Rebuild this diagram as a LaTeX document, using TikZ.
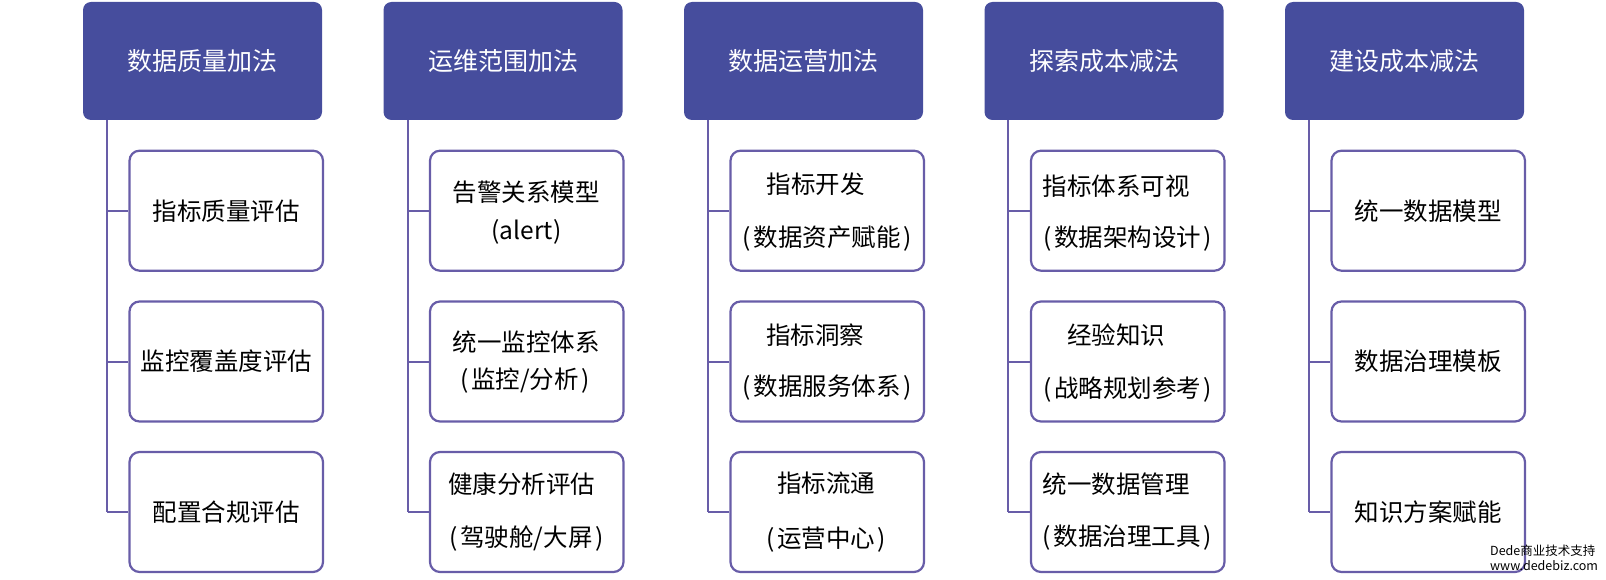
\documentclass[tikz,border=0pt]{standalone}
\usepackage{fontspec}
\newfontfamily\cjk{Noto Sans CJK SC}
\definecolor{hdr}{RGB}{70,77,157}
\definecolor{brd}{RGB}{104,93,168}
\newcommand\mylp{(\kern2.5pt}
\newcommand\myrp{\kern2.5pt)}
\begin{document}
\begin{tikzpicture}[x=1pt,y=-1pt,
  hdrbox/.style={draw=none, fill=hdr, rounded corners=8pt, minimum width=239pt, minimum height=118pt, inner sep=0pt, text=white, font=\cjk\fontsize{25}{30}\selectfont},
  itembox/.style={draw=brd, line width=2.2pt, fill=white, rounded corners=10pt, minimum width=193.5pt, minimum height=120pt, inner sep=0pt, font=\cjk\fontsize{24.5}{29}\selectfont},
  itemtxt/.style={inner sep=0pt, font=\cjk\fontsize{24.5}{29}\selectfont},
  marktxt/.style={inner sep=0pt, anchor=west, font=\cjk\fontsize{12.5}{14}\selectfont},
  link/.style={draw=brd, line width=2pt}]
\useasboundingbox (0,0) rectangle (1606,580);

% headers
\node[hdrbox] (h1) at (202.5,61) {数据质量加法};
\node[hdrbox] (h2) at (503,61) {运维范围加法};
\node[hdrbox] (h3) at (803.5,61) {数据运营加法};
\node[hdrbox] (h4) at (1104,61) {探索成本减法};
\node[hdrbox] (h5) at (1404.5,61) {建设成本减法};

% trunk ends
\coordinate (t1) at (106.5,512);
\coordinate (t2) at (407.5,512);
\coordinate (t3) at (707.5,512);
\coordinate (t4) at (1008,512);
\coordinate (t5) at (1308.5,512);

% item boxes
\node[itembox] (b11) at (226.25,210.7) {指标质量评估};
\node[itembox] (b12) at (226.25,361.5) {监控覆盖度评估};
\node[itembox] (b13) at (226.25,512) {配置合规评估};

\node[itembox] (b21) at (526.75,210.7) {};
\node[itembox] (b22) at (526.75,361.5) {};
\node[itembox] (b23) at (526.75,512) {};

\node[itembox] (b31) at (827.25,210.7) {};
\node[itembox] (b32) at (827.25,361.5) {};
\node[itembox] (b33) at (827.25,512) {};

\node[itembox] (b41) at (1127.75,210.7) {};
\node[itembox] (b42) at (1127.75,361.5) {};
\node[itembox] (b43) at (1127.75,512) {};

\node[itembox] (b51) at (1428.25,210.7) {统一数据模型};
\node[itembox] (b52) at (1428.25,361.5) {数据治理模板};
\node[itembox] (b53) at (1428.25,512) {知识方案赋能};

% connectors
\foreach \c in {1,...,5}{
  \draw[link] (h\c.south -| t\c) -- (t\c);
  \foreach \r in {1,2,3}{
    \draw[link] (b\c\r.west -| t\c) -- (b\c\r.west);
  }
}

% two-line texts
\node[itemtxt] (l211) at (526,192) {告警关系模型};
\node[itemtxt] (l212) at (526.5,232) {(alert)};
\node[itemtxt] (l221) at (526,342) {统一监控体系};
\node[itemtxt] (l222) at (525,381) {\mylp 监控/分析\myrp};
\node[itemtxt] (l231) at (521.5,484) {健康分析评估};
\node[itemtxt] (l232) at (526.5,539) {\mylp 驾驶舱/大屏\myrp};

\node[itemtxt] (l311) at (815.5,184.5) {指标开发};
\node[itemtxt] (l312) at (827,238.5) {\mylp 数据资产赋能\myrp};
\node[itemtxt] (l321) at (815,335) {指标洞察};
\node[itemtxt] (l322) at (827,388) {\mylp 数据服务体系\myrp};
\node[itemtxt] (l331) at (826,483) {指标流通};
\node[itemtxt] (l332) at (826,540) {\mylp 运营中心\myrp};

\node[itemtxt] (l411) at (1116,186) {指标体系可视};
\node[itemtxt] (l412) at (1127.5,239) {\mylp 数据架构设计\myrp};
\node[itemtxt] (l421) at (1116,335) {经验知识};
\node[itemtxt] (l422) at (1127.5,390) {\mylp 战略规划参考\myrp};
\node[itemtxt] (l431) at (1116,484) {统一数据管理};
\node[itemtxt] (l432) at (1127,538) {\mylp 数据治理工具\myrp};

% watermark
\node[marktxt] (wm1) at (1490,551) {Dede商业技术支持};
\node[marktxt] (wm2) at (1490,566) {www.dedebiz.com};
\end{tikzpicture}
\end{document}
